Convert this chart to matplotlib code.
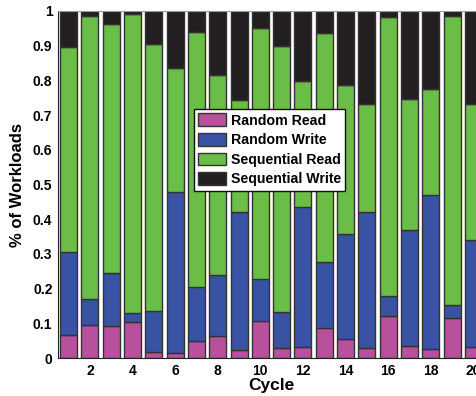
import matplotlib.pyplot as plt
import numpy as np

# Данные
cycle = np.arange(1, 21)
rand_read = [0.067, 0.096, 0.091, 0.105, 0.016, 0.014, 0.050, 0.064, 0.024, 0.106,
             0.028, 0.031, 0.087, 0.054, 0.030, 0.121, 0.036, 0.025, 0.115, 0.032]
# верхняя граница синего (накопленная)
rw_top = [0.306, 0.169, 0.244, 0.129, 0.135, 0.478, 0.204, 0.239, 0.422, 0.228,
          0.132, 0.436, 0.277, 0.358, 0.422, 0.178, 0.368, 0.470, 0.152, 0.340]
# верхняя граница зелёного (накопленная)
sr_top = [0.896, 0.985, 0.963, 0.990, 0.904, 0.835, 0.939, 0.816, 0.744, 0.952,
          0.898, 0.798, 0.936, 0.788, 0.733, 0.983, 0.747, 0.774, 0.985, 0.731]

rr = np.array(rand_read)
rw = np.array(rw_top) - rr
sr = np.array(sr_top) - np.array(rw_top)
sw = 1 - np.array(sr_top)

labels = ['Random Read', 'Random Write', 'Sequential Read', 'Sequential Write']
colors = ['#B8509D', '#3953A4', '#6ABD45', '#231F20']

plt.rcParams['font.family'] = ['Liberation Sans', 'DejaVu Sans']
plt.rcParams['font.weight'] = 'bold'

fig = plt.figure(figsize=(4.77, 3.96), dpi=100)
ax = fig.add_axes([58/477, 1 - 358/396, 426/477, 347/396])

bottom = np.zeros(20)
for vals, c, lab in zip([rr, rw, sr, sw], colors, labels):
    ax.bar(cycle, vals, bottom=bottom, width=0.8, color=c, edgecolor='#333333',
           linewidth=1.0, label=lab)
    bottom += vals

ax.set_xlim(0.5, 20.5)
ax.set_ylim(0, 1)
ax.set_xticks(np.arange(2, 21, 2))
ax.set_yticks(np.arange(0, 1.01, 0.1))
ax.set_yticklabels(['0', '0.1', '0.2', '0.3', '0.4', '0.5', '0.6', '0.7', '0.8', '0.9', '1'])
ax.tick_params(labelsize=10, length=0, pad=4)
for t in ax.get_xticklabels() + ax.get_yticklabels():
    t.set_fontweight('bold')
ax.set_xlabel('Cycle', fontsize=12.5, fontweight='bold', labelpad=0)
ax.set_ylabel('% of Workloads', fontsize=12, fontweight='bold', labelpad=6)
for s in ax.spines.values():
    s.set_color('#222222')
ax.spines['top'].set_color('#999999')

leg = ax.legend(loc='upper left', bbox_to_anchor=(0.319, 0.717), fancybox=False,
                framealpha=1, edgecolor='#111111', fontsize=10.2,
                handlelength=2.0, handleheight=1.0, handletextpad=0.3,
                labelspacing=0.38, borderpad=0.3, borderaxespad=0)
leg.get_frame().set_linewidth(1.0)
for t in leg.get_texts():
    t.set_fontweight('bold')

fig.savefig('out.png', dpi=100)
